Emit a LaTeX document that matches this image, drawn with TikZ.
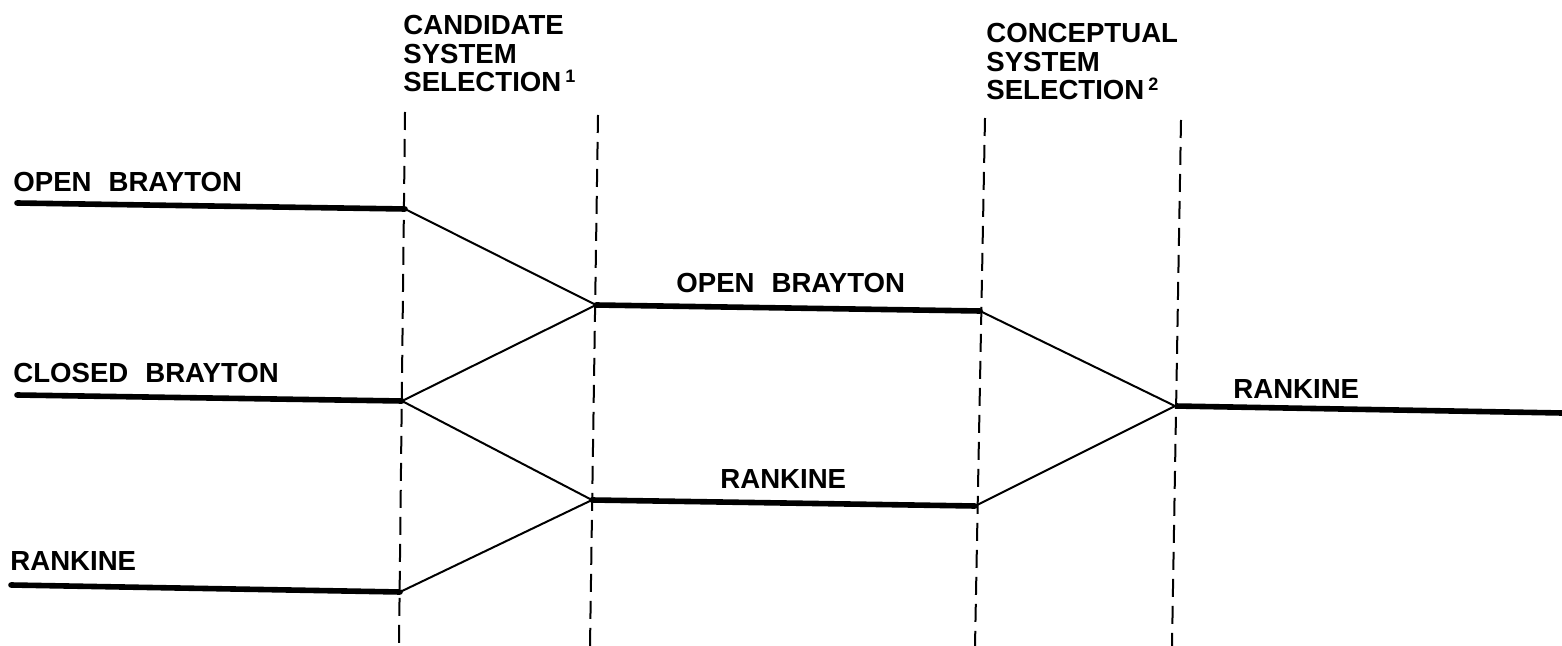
\documentclass[tikz,border=0pt]{standalone}
\usepackage{fontspec}
\setmainfont{Liberation Sans}
\newcommand{\supmark}[1]{\hspace{2pt}\raisebox{4.6pt}{\fontsize{9}{9}\selectfont #1}}
\newcommand{\lblfont}{\fontsize{13.8}{14}\selectfont\bfseries\spaceskip=8.5pt plus 0pt minus 0pt\relax}
\newcommand{\headfont}{\fontsize{13.8}{14.2}\selectfont\bfseries}
\begin{document}
\begin{tikzpicture}[x=0.5pt,y=-0.5pt,
  route/.style={line width=2.8pt,line cap=round},
  link/.style={line width=1pt},
  gate/.style={line width=1pt,dash pattern=on 9pt off 4.5pt},
  lbl/.style={anchor=base west,inner sep=0pt,font=\lblfont},
  head/.style={anchor=north west,inner sep=0pt,align=left,font=\headfont}]
\useasboundingbox (0,0) rectangle (1562,646);
% gates
\coordinate (g1t) at (405,112); \coordinate (g1b) at (399,646);
\coordinate (g2t) at (598,115); \coordinate (g2b) at (590,646);
\coordinate (g3t) at (985,118); \coordinate (g3b) at (975,646);
\coordinate (g4t) at (1181,120); \coordinate (g4b) at (1172,646);
\draw[gate] (g1t) -- (g1b);
\draw[gate] (g2t) -- (g2b);
\draw[gate] (g3t) -- (g3b);
\draw[gate] (g4t) -- (g4b);
% endpoints
\coordinate (obL) at (17,203); \coordinate (obJ) at (405,209);
\coordinate (cbL) at (17,395); \coordinate (cbJ) at (402,401);
\coordinate (rkL) at (11,585); \coordinate (rkJ) at (400,592);
\coordinate (obM) at (596,305); \coordinate (obN) at (980,311);
\coordinate (rkM) at (592,500); \coordinate (rkN) at (975,506);
\coordinate (rkR) at (1175,406); \coordinate (rkE) at (1562,413);
\draw[route] (obL) -- (obJ);
\draw[route] (cbL) -- (cbJ);
\draw[route] (rkL) -- (rkJ);
\draw[route] (obM) -- (obN);
\draw[route] (rkM) -- (rkN);
\draw[route,line cap=butt] (rkR) -- (rkE);
\draw[link] (obJ) -- (obM);
\draw[link] (cbJ) -- (obM);
\draw[link] (cbJ) -- (rkM);
\draw[link] (rkJ) -- (rkM);
\draw[link] (obN) -- (rkR);
\draw[link] (rkN) -- (rkR);
% labels
\node[lbl] (tob) at (13,192) {OPEN BRAYTON};
\node[lbl] (tcb) at (13,383) {CLOSED BRAYTON};
\node[lbl] (trk) at (10,570) {RANKINE};
\node[lbl] (tobm) at (676,293) {OPEN BRAYTON};
\node[lbl] (trkm) at (720,488) {RANKINE};
\node[lbl] (trkr) at (1233,398) {RANKINE};
\node[head] (h1) at (403,15) {CANDIDATE\\SYSTEM\\SELECTION\supmark{1}};
\node[head] (h2) at (986,23) {CONCEPTUAL\\SYSTEM\\SELECTION\supmark{2}};
\end{tikzpicture}
\end{document}
